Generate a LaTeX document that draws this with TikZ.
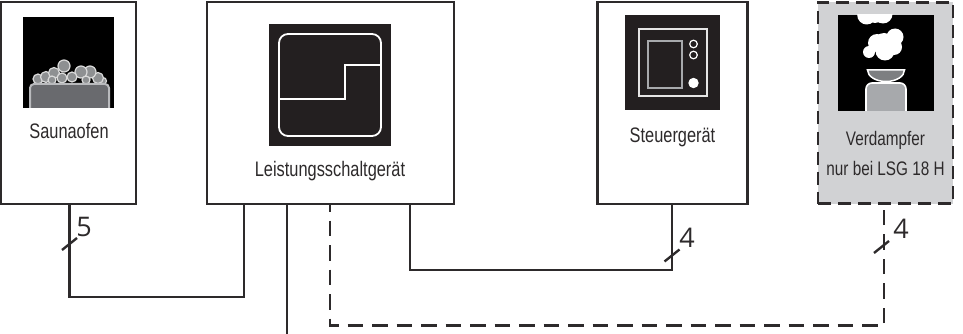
\documentclass[tikz,border=0pt]{standalone}
\usepackage{fontspec}
\setmainfont[FakeStretch=0.78]{Liberation Sans}
\newfontfamily\numfont{Open Sans}
\definecolor{wirecol}{RGB}{45,42,43}
\definecolor{iconblack}{RGB}{35,31,32}
\definecolor{boxgrey}{RGB}{209,210,212}
\definecolor{bodygrey}{RGB}{167,169,172}
\definecolor{ovengrey}{RGB}{105,106,110}
\tikzset{
  unit/.style={draw=wirecol, line width=2.6pt, fill=white, inner sep=0pt},
  unit-opt/.style={unit, dash pattern=on 13pt off 7pt, fill=boxgrey},
  wire/.style={draw=wirecol, line width=2.4pt, line join=miter},
  wire-opt/.style={wire, dash pattern=on 15.5pt off 9pt, dash phase=8pt},
  tick-mark/.style={draw=wirecol, line width=2.4pt},
  caption/.style={font=\fontsize{21}{30}\selectfont, text=wirecol, align=center, inner sep=0pt},
  count/.style={font=\numfont\fontsize{27}{30}\selectfont, text=wirecol, inner sep=0pt},
  icon-line/.style={draw=white, line width=1.8pt}
}
\begin{document}
\begin{tikzpicture}[x=1pt,y=-1pt]
  \useasboundingbox (0,0) rectangle (963,334);

  % Boxes
  \node[unit, minimum width=135pt, minimum height=202pt] (ofen) at (68.5,103) {};
  \node[unit, minimum width=247pt, minimum height=202pt] (lsg) at (330.5,103) {};
  \node[unit, minimum width=150pt, minimum height=202pt] (steuer) at (672.5,103) {};
  \node[unit-opt, minimum width=135pt, minimum height=201pt] (verd) at (885.5,103) {};

  % Saunaofen icon
  \fill[black] (23,17) rectangle (114,108);
  \foreach \x/\y/\r in {38/79/5, 103/81/3.5, 98/78/5.5, 46/77/5.5, 54/73/5.5, 90/72/6, 81/72/6,
      64/66/6, 62/78/5, 72/77/5, 52/80/4, 86/80/4}{
    \path[fill=bodygrey!85!black, draw=white!85!black, line width=1.2pt] (\x,\y) circle (\r);
  }
  \path[fill=ovengrey, draw=bodygrey!80!white, line width=2pt, rounded corners=4pt]
    (30,109) -- (30,84) -- (109,84) -- (109,109);
  \fill[white] (23,108.2) rectangle (114,110);

  % Leistungsschaltgerät icon
  \fill[iconblack] (269,24) rectangle (391,146);
  \draw[icon-line, rounded corners=9pt] (279,34) rectangle (381,136);
  \draw[icon-line] (279,99) -- (345,99) -- (345,65) -- (381,65);

  % Steuergerät icon
  \fill[iconblack] (625,15) rectangle (720,110);
  \draw[white!90!black, line width=2.2pt] (639,29) rectangle (707,96);
  \draw[bodygrey, line width=1.5pt] (648,41) rectangle (682,88);
  \foreach \y in {44,55}{
    \draw[white, line width=1.2pt] (693.5,\y) circle (3.8);
  }
  \fill[white] (693.5,83) circle (5.2);

  % Verdampfer icon
  \fill[black] (838,15) rectangle (934,111);
  \begin{scope}
    \clip (838,15) rectangle (934,111);
    \fill[white] (866.7,15) circle (9.5) (875,14) circle (9) (883,14) circle (9.5);
    \fill[white] (869,52) circle (6) (877,43) circle (9) (885,51) circle (9.5)
      (895,37) circle (8.5) (894,47) circle (8) (884,44) circle (11);
    \path[fill=bodygrey!75!black, draw=white, line width=1.5pt] (867.5,70) -- (904.5,70)
      arc[start angle=0, end angle=180, x radius=18.5, y radius=11.5] -- cycle;
    \path[fill=bodygrey, draw=white, line width=1.6pt, rounded corners=6pt]
      (866,113) -- (866,83) -- (906,83) -- (906,113);
  \end{scope}

  % Captions
  \node[caption] (ofen-text) at (69,131) {Saunaofen};
  \node[caption] (lsg-text) at (330,171) {Leistungsschaltgerät};
  \node[caption] (steuer-text) at (672.5,137) {Steuergerät};
  \node[caption, font=\fontsize{19.6}{30}\selectfont] (verd-text) at (885.5,153) {Verdampfer\\nur bei LSG 18 H};

  % Wires
  \coordinate (lsg-a) at (244,204);
  \coordinate (lsg-b) at (287,204);
  \coordinate (lsg-c) at (330,204);
  \coordinate (lsg-d) at (410,204);
  \coordinate (ofen-low) at (69.5,297);
  \coordinate (steuer-low) at (672,270);
  \coordinate (verd-low) at (884,325.5);
  \coordinate (supply) at (287,334);

  \draw[wire] (ofen.south -| ofen-low) -- (ofen-low) -- (ofen-low -| lsg-a) -- (lsg-a);
  \draw[wire] (lsg-b) -- (supply);
  \draw[wire] (lsg-d) -- (lsg-d |- steuer-low) -- (steuer-low) -- (steuer.south -| steuer-low);
  \draw[wire-opt] (lsg-c) -- (lsg-c |- verd-low) -- (verd-low) -- (verd.south -| verd-low);

  % Ticks and counts
  \foreach \x/\y in {69.5/244, 672/255.5, 881.5/247}{
    \draw[tick-mark] (\x-7.5,\y+6) -- (\x+7.5,\y-6);
  }
  \node[count] (count-ofen) at (84,227) {5};
  \node[count] (count-steuer) at (687,238) {4};
  \node[count] (count-verd) at (901,229) {4};
\end{tikzpicture}
\end{document}
